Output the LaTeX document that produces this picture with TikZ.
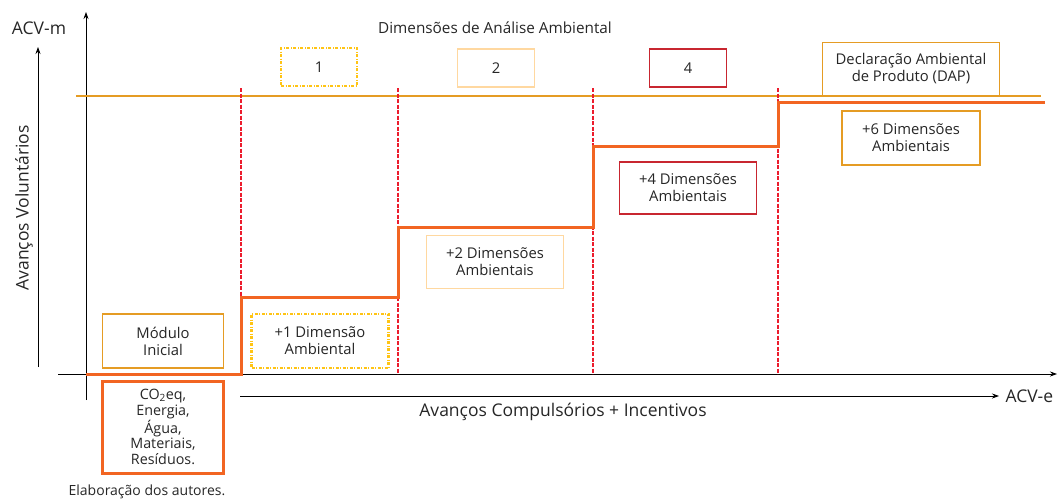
\documentclass[tikz,border=0pt]{standalone}
\usepackage{fontspec}
\setmainfont{Open Sans}
\usetikzlibrary{arrows.meta}

\definecolor{steporange}{RGB}{242,101,34}
\definecolor{daporange}{RGB}{229,156,36}
\definecolor{dimred}{RGB}{200,38,48}
\definecolor{dimpeach}{RGB}{255,216,160}
\definecolor{dimyellow}{RGB}{255,196,20}
\definecolor{limitred}{RGB}{236,28,45}

\tikzset{
  axis/.style={line width=0.8pt, -{Stealth[length=7pt,width=5pt]}},
  axislabel/.style={font=\fontsize{17.5}{20}\selectfont},
  stepline/.style={steporange, line width=3pt},
  limitline/.style={limitred, line width=2.5pt, dash pattern=on 4pt off 1.5pt},
  dimbox/.style={draw=#1, line width=1.8pt, align=center, inner sep=0pt, fill=white},
  dotbox/.style={draw=dimyellow, line width=2.2pt, dash pattern=on 3pt off 1.5pt on 1pt off 1.5pt, align=center, inner sep=0pt, fill=white},
}

\begin{document}
\begin{tikzpicture}[x=1pt, y=-1pt, font=\fontsize{14.8}{17}\selectfont, text=black!85]

  \useasboundingbox (0,0) rectangle (1059,501);

  % axes
  \coordinate (yb) at (86,400);
  \coordinate (yt) at (86,12);
  \coordinate (xl) at (58,374);
  \coordinate (xr) at (1057,374);
  \draw[axis] (yb) -- (yt);
  \draw[axis] (xl) -- (xr);

  \coordinate (vb) at (38,367);
  \coordinate (vt) at (38,47);
  \draw[axis] (vb) -- (vt);
  \coordinate (cl) at (240,396);
  \coordinate (cr) at (999,396);
  \draw[axis] (cl) -- (cr);

  \node[axislabel] (acvm) at (39,28) {ACV-m};
  \node[axislabel, anchor=west] (acve) at (1002,396) {ACV-e};
  \node[axislabel, rotate=90] (volunt) at (24,208) {Avanços Voluntários};
  \node[axislabel] (compuls) at (563,412) {Avanços Compulsórios + Incentivos};
  \node[font=\fontsize{15.3}{18}\selectfont] (title) at (495,28) {Dimensões de Análise Ambiental};
  \node[font=\fontsize{14}{16}\selectfont] (source) at (147,492) {Elaboração dos autores.};

  % DAP line
  \coordinate (dapl) at (76,96);
  \coordinate (dapr) at (1041,96);
  \draw[daporange, line width=2.2pt] (dapl) -- (dapr);

  % limits
  \foreach \x in {241,398,593,778}
    \draw[limitline] (\x,88) -- (\x,374);

  % steps
  \draw[stepline] (86,374) -| (241,297) -| (398,227) -| (593,146) -| (778,102) -- (1045,102);

  % top boxes
  \node[dotbox, minimum width=76pt, minimum height=38pt] (d1) at (319,67) {1};
  \node[dimbox=dimpeach, minimum width=77pt, minimum height=38pt] (d2) at (496,68) {2};
  \node[dimbox=dimred, minimum width=77pt, minimum height=38pt] (d4) at (688,68) {4};
  \node[dimbox=daporange, minimum width=177pt, minimum height=53pt] (dap) at (911,69) {Declaração Ambiental\\de Produto (DAP)};

  % step boxes
  \node[dimbox=daporange, minimum width=121pt, minimum height=54pt] (mod) at (163,341) {Módulo\\Inicial};
  \node[dotbox, minimum width=137pt, minimum height=54pt] (p1) at (320,341) {+1 Dimensão\\Ambiental};
  \node[dimbox=dimpeach, minimum width=137pt, minimum height=53pt] (p2) at (495,262) {+2 Dimensões\\Ambientais};
  \node[dimbox=dimred, minimum width=137pt, minimum height=52pt] (p4) at (688,188) {+4 Dimensões\\Ambientais};
  \node[dimbox=daporange, minimum width=138pt, minimum height=54pt] (p6) at (911,138) {+6 Dimensões\\Ambientais};

  \node[dimbox=steporange, line width=3pt, minimum width=121pt, minimum height=92pt,
        font=\fontsize{14.3}{15.8}\selectfont] (base) at (163,427)
        {CO\textsubscript{2}eq,\\Energia,\\Água,\\Materiais,\\Resíduos.};

\end{tikzpicture}
\end{document}
